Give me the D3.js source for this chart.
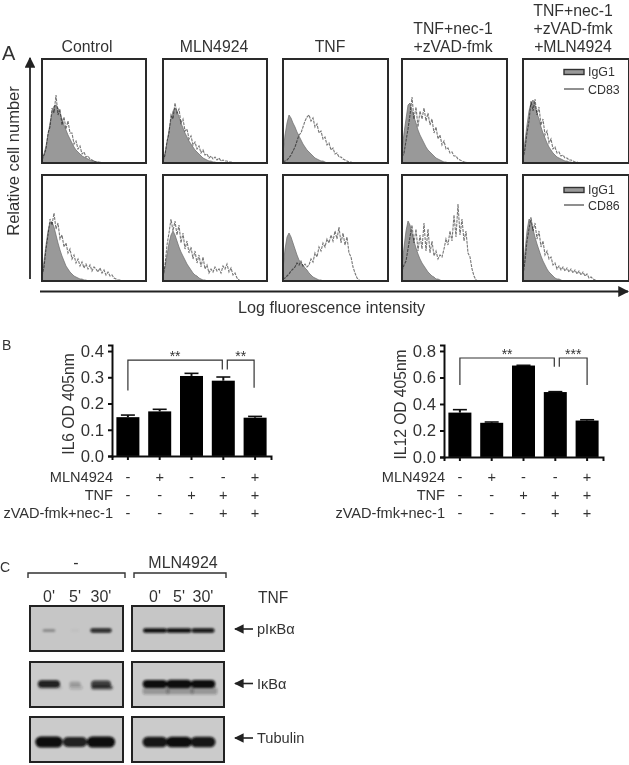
<!DOCTYPE html>
<html><head><meta charset="utf-8">
<script src="https://cdn.jsdelivr.net/npm/d3@7/dist/d3.min.js"></script>
<style>html,body{margin:0;padding:0;background:#fff;overflow:hidden}svg{display:block}text{font-family:"Liberation Sans",Arial,sans-serif;fill:#333}</style>
</head><body><svg id="c" width="629" height="765"></svg>
<script>
// ---- Panel A: flow histograms (counts per 2-channel bin)
const conditionTitles=[["Control"],["MLN4924"],["TNF"],["TNF+nec-1","+zVAD-fmk"],["TNF+nec-1","+zVAD-fmk","+MLN4924"]];
const cd83Iso=[
[4,9,17,28,40,50,57,58,55,50,44,38,33,28,24,20,16,13,11,9,7,6,5,4,3,2,2,1,1,1,0],
[3,10,20,33,44,52,55,52,46,40,35,30,26,22,19,16,13,11,9,7,5,4,3,2,2,1,1,0],
[10,28,40,48,45,40,36,31,27,23,19,16,13,11,9,7,5,4,3,2,2,1,0],
[12,30,44,58,60,52,46,40,33,28,24,20,16,13,11,9,7,5,4,3,2,1,1,0],
[6,22,38,52,60,63,58,50,44,36,30,25,20,16,13,10,8,6,5,4,3,2,2,1,1,0]];
const cd83Ab=[
[3,8,14,30,36,55,50,68,48,54,38,46,34,42,30,30,19,22,14,17,9,11,6,7,4,3,2,1,1,0],
[2,8,22,30,48,44,60,50,54,40,44,32,34,24,27,18,21,14,17,10,13,8,9,5,7,4,6,3,5,2,3,2,2,1,1,0],
[1,2,3,5,8,12,16,22,28,30,36,42,46,48,42,45,36,39,30,32,24,26,18,20,13,15,9,10,6,6,4,3,2,1,1,0],
[6,10,22,34,48,66,44,56,36,52,44,55,42,50,38,44,30,36,24,28,18,22,14,15,10,11,7,7,4,3,2,1,1,0],
[4,14,30,42,62,52,64,48,56,38,44,28,32,20,24,14,16,10,11,7,8,5,5,3,3,2,1,1,0]];
const cd86Iso=[
[6,20,36,50,58,59,54,46,38,31,25,20,15,12,9,7,5,4,3,2,2,1,1,0],
[4,14,26,38,46,50,46,40,34,29,25,21,17,14,11,8,6,5,3,2,1,1,0],
[12,32,44,48,44,38,32,26,21,18,16,13,11,8,6,4,3,2,1,1,0],
[14,34,50,60,56,48,40,33,27,22,18,15,12,9,7,5,4,2,2,1,0],
[8,30,50,62,60,52,44,37,31,25,20,16,12,9,7,5,3,2,2,1,0]];
const cd86Ab=[
[5,14,32,46,62,56,68,52,58,42,46,34,38,28,32,22,26,18,22,15,19,13,17,12,16,10,14,12,9,13,8,11,6,9,5,6,3,2,1,1,0],
[4,16,36,48,62,50,60,46,56,38,48,32,40,28,34,22,30,18,26,14,24,12,16,8,12,9,14,10,12,8,15,12,17,9,13,6,8,3,1,0],
[2,3,5,7,10,12,14,18,16,20,15,17,14,16,22,19,28,24,34,30,38,34,42,38,46,40,50,42,54,38,48,36,44,28,24,14,8,3,1,0],
[10,16,20,32,44,56,38,52,30,46,32,58,30,52,28,40,25,30,22,26,24,32,42,36,50,40,66,44,77,46,62,40,50,28,24,12,5,1,0],
[6,20,40,52,64,50,58,42,50,34,40,26,30,22,24,16,18,12,15,11,14,10,13,9,12,8,11,7,10,6,9,5,7,3,4,2,1,0]];
// ---- Panel B: ELISA
const il6Values=[0.148,0.17,0.305,0.287,0.146];
const il6Errors=[0.008,0.008,0.01,0.014,0.005];
const il12Values=[0.335,0.258,0.69,0.49,0.275];
const il12Errors=[0.022,0.006,0.002,0.003,0.006];
const il6Ticks=[0,0.1,0.2,0.3,0.4];
const il12Ticks=[0,0.2,0.4,0.6,0.8];
const rowLabels=["MLN4924","TNF","zVAD-fmk+nec-1"];
const rowMln=["-","+","-","-","+"];
const rowTnf=["-","-","+","+","+"];
const rowZvad=["-","-","-","+","+"];
// ---- Panel C: western blot band intensities (relative)
const laneLabels=["0'","5'","30'"];
const blotNames=["pIκBα","IκBα","Tubulin"];
const pIkbCtrl=[0.3,0.04,0.85],pIkbMln=[1,1.05,0.95];
const ikbCtrl=[0.9,0.22,0.75],ikbMln=[1.05,1.1,1.05];
const ikbLowerCtrl=[0.12,0.18,0.7],ikbLowerMln=[0.3,0.3,0.3];
const tubCtrl=[1.1,0.9,1.15],tubMln=[0.95,1,0.95];

const svg=d3.select("#c");
const defs=svg.append("defs");
defs.append("filter").attr("id","soft").attr("filterUnits","userSpaceOnUse").attr("x",0).attr("y",0).attr("width",629).attr("height",765)
  .append("feGaussianBlur").attr("stdDeviation",0.55);
defs.append("filter").attr("id","band").attr("filterUnits","userSpaceOnUse").attr("x",0).attr("y",0).attr("width",629).attr("height",765)
  .append("feGaussianBlur").attr("stdDeviation",1);
const mk=defs.append("marker").attr("id","ah").attr("viewBox","0 0 10 10").attr("refX",9).attr("refY",5)
  .attr("markerWidth",6).attr("markerHeight",6).attr("orient","auto-start-reverse");
mk.append("path").attr("d","M0,0L10,5L0,10Z").attr("fill","#222");
const root=svg.append("g").attr("filter","url(#soft)");
const txt=(s,x,y,size,anchor="start",g=root)=>g.append("text").attr("x",x).attr("y",y).attr("font-size",size).attr("text-anchor",anchor).text(s);

// ---------- A
const panelX=[42,163,283,402,523],panelW=[104,104,105,105,106],rowY=[59,175],rowH=[104,106];
const titleX=[87,214,330,453,573];
const bin=d3.scaleLinear().domain([0,52]).range([0,104]);
conditionTitles.forEach((t,i)=>t.forEach((s,j)=>txt(s,titleX[i],52-(t.length-1-j)*18,15.8,"middle")));
[[cd83Iso,cd83Ab],[cd86Iso,cd86Ab]].forEach(([iso,ab],r)=>{
  panelX.forEach((px,i)=>{
    const g=root.append("g").attr("transform",`translate(${px},${rowY[r]})`);
    const y=d3.scaleLinear().domain([0,100]).range([rowH[r],rowH[r]-100]);
    const area=d3.area().x((d,k)=>bin(k)).y0(y(0)).y1(d=>y(d));
    const line=d3.line().x((d,k)=>bin(k)).y(d=>y(d));
    g.append("path").attr("d",area(iso[i])).attr("fill","#999").attr("stroke","#6a6a6a").attr("stroke-width",.7);
    g.append("path").attr("d",line(ab[i])).attr("fill","none").attr("stroke","#777").attr("stroke-width",1.1)
      .attr("stroke-dasharray","3 1").style("mix-blend-mode","multiply");
    g.append("rect").attr("width",panelW[i]).attr("height",rowH[r]).attr("fill","none").attr("stroke","#2b2b2b").attr("stroke-width",2);
  });
});
[["CD83",72,89],["CD86",190,205]].forEach(([n,a,b])=>{
  root.append("rect").attr("x",564).attr("y",a-2.5).attr("width",20).attr("height",5).attr("fill","#999").attr("stroke","#333").attr("stroke-width",1.4);
  txt("IgG1",588,a+3.5,12.4);
  root.append("line").attr("x1",564).attr("x2",584).attr("y1",b).attr("y2",b).attr("stroke","#444").attr("stroke-width",1.2);
  txt(n,588,b+4.5,12.4);
});
root.append("line").attr("x1",30).attr("x2",30).attr("y1",279).attr("y2",58).attr("stroke","#222").attr("stroke-width",1.8).attr("marker-end","url(#ah)");
root.append("line").attr("x1",40).attr("x2",628).attr("y1",291.5).attr("y2",291.5).attr("stroke","#222").attr("stroke-width",1.8).attr("marker-end","url(#ah)");
txt("A",2,60,20);
txt("Log fluorescence intensity",238,313,16.2);
root.append("text").attr("transform","translate(18.5,161) rotate(-90)").attr("text-anchor","middle").attr("font-size",16.5).text("Relative cell number");

// ---------- B
txt("B",2,350,14);
function barChart(o){
  const g=root.append("g");
  const x=d3.scaleBand().domain(d3.range(o.values.length)).range([o.x0,o.x0+159]);
  const y=d3.scaleLinear().domain([0,o.top]).range([o.y0,345]);
  const barW=23;
  const ya=g.append("g").attr("transform",`translate(${o.x0},0)`).call(d3.axisLeft(y).tickValues(o.ticks).tickSize(4).tickFormat(d3.format(".1f")));
  ya.select(".domain").attr("stroke","#111").attr("stroke-width",2);
  ya.selectAll(".tick line").attr("stroke","#111").attr("stroke-width",2);
  ya.selectAll("text").attr("font-size",16.7).attr("fill","#333").attr("dx",-1);
  ya.attr("font-family",null);
  g.selectAll(".err").data(o.values).join("line").attr("x1",(d,i)=>x(i)+x.bandwidth()/2).attr("x2",(d,i)=>x(i)+x.bandwidth()/2)
    .attr("y1",d=>y(d)).attr("y2",(d,i)=>y(d+o.errors[i])).attr("stroke","#111").attr("stroke-width",2);
  g.selectAll(".cap").data(o.values).join("line").attr("x1",(d,i)=>x(i)+x.bandwidth()/2-7).attr("x2",(d,i)=>x(i)+x.bandwidth()/2+7)
    .attr("y1",(d,i)=>y(d+o.errors[i])).attr("y2",(d,i)=>y(d+o.errors[i])).attr("stroke","#111").attr("stroke-width",1.6);
  g.selectAll(".bar").data(o.values).join("rect").attr("x",(d,i)=>x(i)+x.bandwidth()/2-barW/2).attr("width",barW)
    .attr("y",d=>y(d)).attr("height",d=>y(0)-y(d)).attr("fill","#000");
  const xa=g.append("g").attr("transform",`translate(0,${o.y0})`).call(d3.axisBottom(x).tickSize(4).tickFormat(""));
  xa.select(".domain").attr("stroke","#111").attr("stroke-width",2);
  xa.selectAll(".tick line").attr("stroke","#111").attr("stroke-width",2);
  [rowMln,rowTnf,rowZvad].forEach((row,r)=>{
    const yy=o.rowY+r*18;
    txt(rowLabels[r],o.x0+1,yy+5,14.6,"end",g);
    row.forEach((s,i)=>txt(s,x(i)+x.bandwidth()/2,yy+5,14.6,"middle",g));
  });
  o.brackets.forEach(b=>{
    const cx=i=>x(i)+x.bandwidth()/2;
    const p=d3.path();const xa_=cx(b.from)+(b.dxa||0),xb_=cx(b.to)+(b.dxb||0);
    p.moveTo(xa_,y(b.l));p.lineTo(xa_,y(b.t));p.lineTo(xb_,y(b.t));p.lineTo(xb_,y(b.r));
    g.append("path").attr("d",p.toString()).attr("fill","none").attr("stroke","#333").attr("stroke-width",1.2);
    txt(b.s,(xa_+xb_)/2,y(b.t)+1,14,"middle",g);
  });
  g.append("text").attr("transform",`translate(${o.x0-38},${(o.y0+351)/2+.5}) rotate(-90)`).attr("text-anchor","middle").attr("font-size",15.6).text(o.title);
}
barChart({x0:112,y0:456,top:0.423,values:il6Values,errors:il6Errors,ticks:il6Ticks,title:"IL6 OD 405nm",rowY:476.5,
  brackets:[{from:0,to:3,dxb:-1,l:0.25,t:0.365,r:0.33,s:"**"},{from:3,to:4,dxa:4,dxb:-1,l:0.33,t:0.365,r:0.26,s:"**"}]});
barChart({x0:444,y0:457,top:0.845,values:il12Values,errors:il12Errors,ticks:il12Ticks,title:"IL12 OD 405nm",rowY:476.5,
  brackets:[{from:0,to:3,dxb:-1,l:0.543,t:0.747,r:0.68,s:"**"},{from:3,to:4,dxa:4,l:0.68,t:0.747,r:0.543,s:"***"}]});

// ---------- C
txt("C",0,572,14);
const groups=[{x:30,w:93,brX:28,brW:97,label:"-",c:76},{x:132,w:92,brX:134,brW:92,label:"MLN4924",c:183}];
const blotY=[606,662,717],blotH=45;
const blotData=[[pIkbCtrl,pIkbMln],[ikbCtrl,ikbMln],[tubCtrl,tubMln]];
const lowerData=[ikbLowerCtrl,ikbLowerMln];
const bandThick=[4.6,8,10.5],bandOffset=[24.5,22,25];
const laneRange=[[36,114],[143,215]];
const alpha=d3.scaleLinear().domain([0,1]).range([0,1]).clamp(true);
const bandW=d3.scaleLinear().domain([0,1.2]).range([8,27]);
groups.forEach((gr,gi)=>{
  const lane=d3.scaleBand().domain(d3.range(3)).range(laneRange[gi]);
  const cx=i=>lane(i)+lane.bandwidth()/2;
  const p=d3.path();p.moveTo(gr.brX,578);p.lineTo(gr.brX,573);p.lineTo(gr.brX+gr.brW,573);p.lineTo(gr.brX+gr.brW,578);
  root.append("path").attr("d",p.toString()).attr("fill","none").attr("stroke","#333").attr("stroke-width",1.4);
  txt(gr.label,gr.c,568,16,"middle");
  laneLabels.forEach((s,i)=>txt(s,cx(i),602,16,"middle"));
  blotY.forEach((by,b)=>{
    const g=root.append("g");
    g.append("rect").attr("x",gr.x).attr("y",by).attr("width",gr.w).attr("height",blotH).attr("fill",b==0?"#c6c6c6":"#cbcbcb");
    const bands=g.append("g").attr("filter","url(#band)");
    blotData[b][gi].forEach((v,i)=>{
      const th=bandThick[b]*(0.55+0.45*Math.min(v,1.1));
      const w=bandW(v)+(b==2?2:0);
      if(b==1){
        const lo=lowerData[gi][i];
        bands.append("rect").attr("x",cx(i)-w/2).attr("y",by+bandOffset[b]+(gi==0?1.5:3.5)).attr("width",w+2).attr("height",gi==0?4:7)
          .attr("rx",2).attr("fill","#222").attr("opacity",alpha(lo));
      }
      bands.append("rect").attr("x",cx(i)-w/2).attr("y",by+bandOffset[b]-th/2).attr("width",w).attr("height",th)
        .attr("rx",th/2).attr("fill","#0a0a0a").attr("opacity",alpha(v));
    });
    g.append("rect").attr("x",gr.x).attr("y",by).attr("width",gr.w).attr("height",blotH).attr("fill","none").attr("stroke","#222").attr("stroke-width",2);
  });
});
txt("TNF",258,602.5,15.6);
[[629,"pIκBα"],[683.5,"IκBα"],[738,"Tubulin"]].forEach(([yy,s])=>{
  root.append("line").attr("x1",253).attr("x2",235).attr("y1",yy).attr("y2",yy).attr("stroke","#222").attr("stroke-width",1.6).attr("marker-end","url(#ah)");
  txt(s,257,yy+5,14.6);
});
</script></body></html>
